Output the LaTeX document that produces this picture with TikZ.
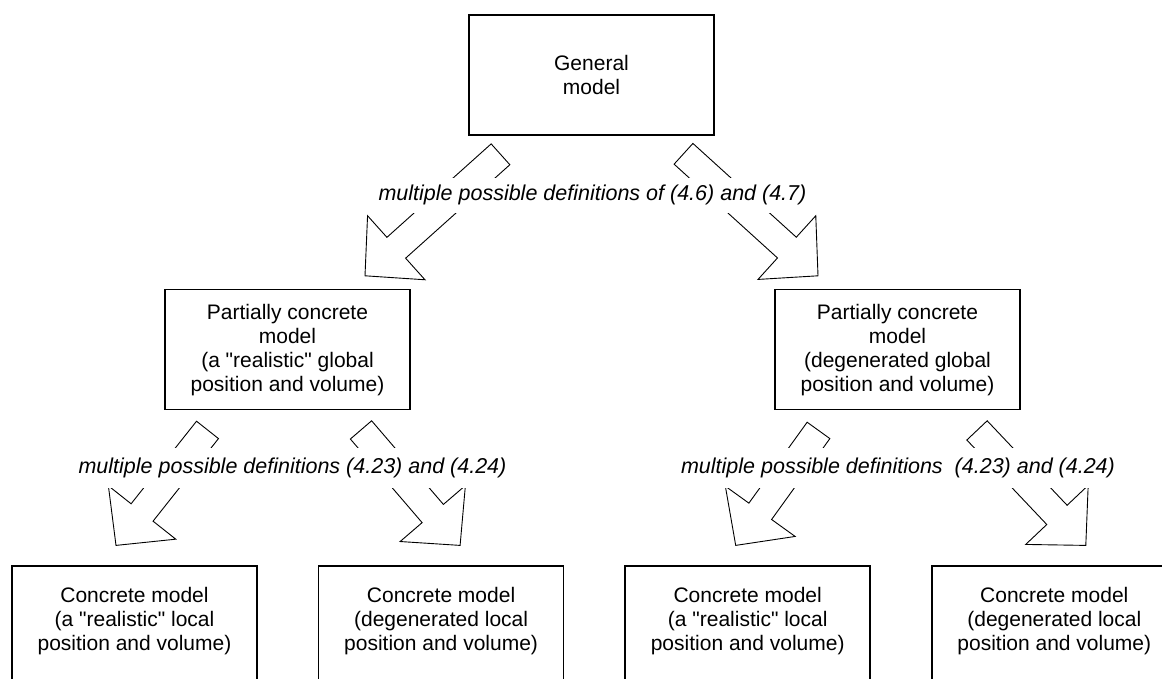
\documentclass[tikz,border=0pt]{standalone}
\usepackage{fontspec}
\setmainfont{Liberation Sans}
\usepackage{tikz}
\usetikzlibrary{positioning, calc}

% hollow block arrow from tail #1 to tip #2
\newcommand{\blockarrow}[2]{%
  \coordinate (neck) at ($(#2)!42pt!(#1)$);
  \draw[bigarrow] ($(#1)!14pt!90:(#2)$) -- ($(neck)!14pt!90:(#2)$) -- ($(neck)!43pt!90:(#2)$) -- (#2)
    -- ($(neck)!43pt!-90:(#2)$) -- ($(neck)!14pt!-90:(#2)$) -- ($(#1)!14pt!-90:(#2)$) -- cycle;%
}
\newcommand{\qq}{\textquotedbl}

\begin{document}
\begin{tikzpicture}[
    node distance=153pt and 60pt,
    model/.style={draw, line width=1.6pt, align=center, minimum width=245pt, minimum height=120pt, inner sep=0pt, font=\fontsize{21}{24}\selectfont},
    defn/.style={fill=white, inner xsep=3pt, inner ysep=10pt, font=\fontsize{21.5}{24}\selectfont\itshape},
    bigarrow/.style={draw, line width=0.9pt, line join=miter}
]
\useasboundingbox (0,0) rectangle (1162pt,-679pt);

\node[model] (gen) at (591.5pt,-75pt) {General\\model};
\node[model, below=of gen, xshift=-304pt] (pcl) {Partially concrete\\model\\(a \qq realistic\qq{} global\\position and volume)};
\node[model, below=of gen, xshift=306pt] (pcr) {Partially concrete\\model\\(degenerated global\\position and volume)};

\node[model, below=155pt of pcl, xshift=-153pt] (c1) {Concrete model\\(a \qq realistic\qq{} local\\position and volume)\rule[-14pt]{0pt}{14pt}};
\node[model, right=of c1] (c2) {Concrete model\\(degenerated local\\position and volume)\rule[-14pt]{0pt}{14pt}};
\node[model, right=of c2] (c3) {Concrete model\\(a \qq realistic\qq{} local\\position and volume)\rule[-14pt]{0pt}{14pt}};
\node[model, right=of c3] (c4) {Concrete model\\(degenerated local\\position and volume)\rule[-14pt]{0pt}{14pt}};

\coordinate (a1s) at ([shift={(-91pt,-18.5pt)}]gen.south);
\coordinate (a1e) at ([shift={(77.5pt,13pt)}]pcl.north);
\coordinate (a2s) at ([shift={(92pt,-18pt)}]gen.south);
\coordinate (a2e) at ([shift={(-79.5pt,13pt)}]pcr.north);
\coordinate (b1s) at ([shift={(-80pt,-19.5pt)}]pcl.south);
\coordinate (b1e) at ([shift={(-18.5pt,20pt)}]c1.north);
\coordinate (b2s) at ([shift={(73.5pt,-19.5pt)}]pcl.south);
\coordinate (b2e) at ([shift={(19pt,20pt)}]c2.north);
\coordinate (b3s) at ([shift={(-79pt,-20pt)}]pcr.south);
\coordinate (b3e) at ([shift={(-12pt,20pt)}]c3.north);
\coordinate (b4s) at ([shift={(79.5pt,-20pt)}]pcr.south);
\coordinate (b4e) at ([shift={(31.5pt,20pt)}]c4.north);

\blockarrow{a1s}{a1e}
\blockarrow{a2s}{a2e}
\blockarrow{b1s}{b1e}
\blockarrow{b2s}{b2e}
\blockarrow{b3s}{b3e}
\blockarrow{b4s}{b4e}

\node[defn, inner ysep=7.5pt] (lgen) at ($(gen.south)+(1pt,-59.5pt)$) {multiple possible definitions of (4.6) and (4.7)};
\node[defn] (lpcl) at ($(pcl.south)+(5pt,-58pt)$) {multiple possible definitions (4.23) and (4.24)};
\node[defn] (lpcr) at ($(pcr.south)+(0.5pt,-58pt)$) {multiple possible definitions\hspace{12pt}(4.23) and (4.24)};
\end{tikzpicture}
\end{document}
